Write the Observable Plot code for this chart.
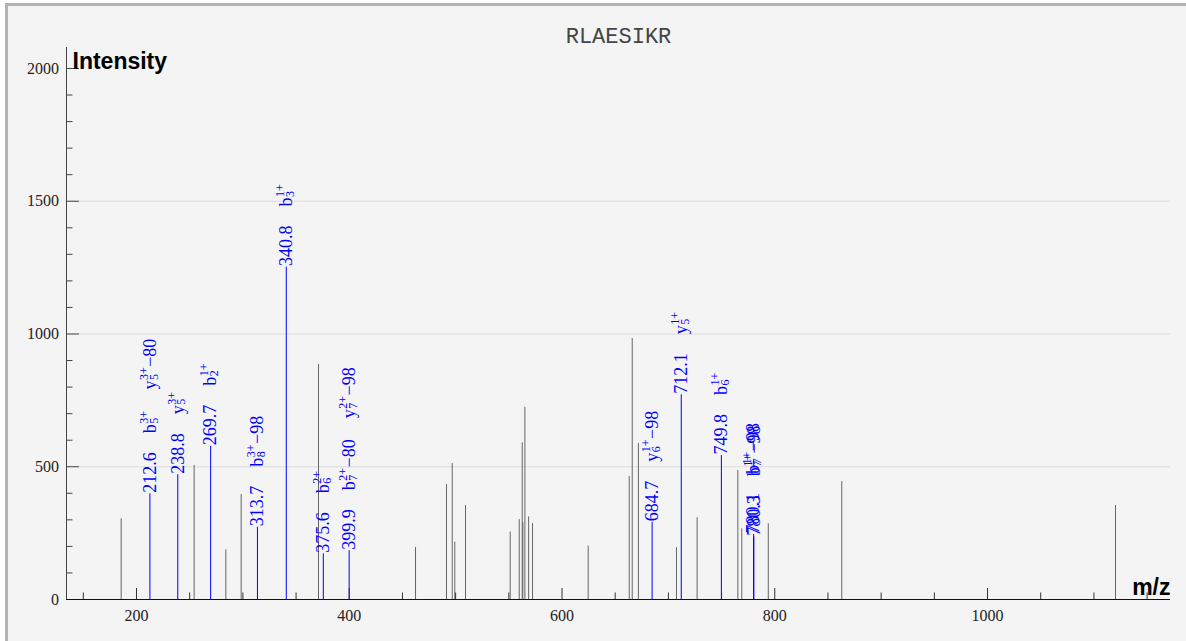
<!DOCTYPE html>
<html><head><meta charset="utf-8">
<script src="https://cdn.jsdelivr.net/npm/d3@7"></script>
<script src="https://cdn.jsdelivr.net/npm/@observablehq/plot@0.6"></script>
<style>
html,body{margin:0;padding:0;background:#fff;width:1186px;height:641px;overflow:hidden;}
#frame{position:absolute;left:5px;top:3px;width:1300px;height:800px;border-left:3px solid #b3b3b3;border-top:3px solid #b3b3b3;background:#f4f4f4;}
#chart{position:absolute;left:0;top:0;}
</style></head>
<body><div id="frame"></div><div id="chart"></div>
<script>
// ---- data ----
const title = "RLAESIKR";
const greyMz = [185.6, 254.2, 284.0, 298.4, 371.1, 462.3, 491.4, 496.8, 499.2, 509.3, 551.3, 559.8, 562.6, 563.2, 565.1, 568.6, 572.3, 624.6, 663.2, 666.0, 671.8, 707.6, 727.0, 765.3, 769.0, 793.9, 863.0, 1120.3];
const greyIntensity = [304, 505, 187, 395, 885, 196, 433, 512, 216, 354, 254, 301, 590, 289, 724, 311, 286, 201, 463, 983, 588, 195, 308, 486, 266, 285, 444, 354];
const annMz = [212.6, 238.8, 269.7, 313.7, 340.8, 375.6, 399.9, 684.7, 712.1, 749.8, 780.1, 780.3];
const annIntensity = [398, 470, 577, 272, 1252, 172, 184, 291, 771, 542, 245, 236];
const annText = ["212.6", "238.8", "269.7", "313.7", "340.8", "375.6", "399.9", "684.7", "712.1", "749.8", "780.1", "780.3"];
const annIons = [
  ["b_5^3+", "y_5^3+−80"],
  ["y_5^3+"],
  ["b_2^1+"],
  ["b_8^3+−98"],
  ["b_3^1+"],
  ["b_6^2+"],
  ["b_7^2+−80", "y_7^2+−98"],
  ["y_6^1+−98"],
  ["y_5^1+"],
  ["b_6^1+"],
  ["b_7^1+−98"],
  ["b_7^1+−98"]
];
const yTicks = [0, 500, 1000, 1500, 2000];
const xTicks = [200, 400, 600, 800, 1000];
const gridValues = [500, 1000, 1500];
const xLabel = "m/z";
const yLabel = "Intensity";

// ---- layout ----
const W = 1186, H = 641, mL = 66, mR = 16, mT = 47, mB = 42;
const xDom = [134.2, 1172], yDom = [0, 2079];
const kX = (W - mL - mR) / (xDom[1] - xDom[0]);
const kY = (H - mT - mB) / (yDom[1] - yDom[0]);
const xMinor = d3.range(150, 1151, 50).filter(v => v % 200 !== 0);
const yMinor = d3.range(100, 2000, 100).filter(v => v % 500 !== 0);

const greyData = greyMz.map((mz, i) => ({mz, intensity: greyIntensity[i]}));
const annData = annMz.map((mz, i) => ({mz, intensity: annIntensity[i]}));

// label layout along the rotated text (pixels upward from peak top)
const FS = 18, SFS = 12;
const cw = {".": 0.25, "+": 0.564, "−": 0.564, "b": 0.5, "y": 0.5};
const tw = (s, size) => [...s].reduce((a, c) => a + (cw[c] ?? 0.5), 0) * size;
const numRows = [], mainRows = [], supRows = [], subRows = [];
annData.forEach((d, i) => {
  let off = 1;
  const at = o => d.intensity + o / kY;
  numRows.push({x: d.mz, y: at(off), t: annText[i]});
  off += tw(annText[i], FS) + 19;
  annIons[i].forEach(lbl => {
    const m = lbl.match(/^([a-z])_(\d+)\^(\d\+)(.*)$/);
    mainRows.push({x: d.mz, y: at(off), t: m[1]});
    off += tw(m[1], FS) + 0.5;
    supRows.push({x: d.mz - 6 / kX, y: at(off), t: m[3]});
    subRows.push({x: d.mz + 3.8 / kX, y: at(off), t: m[2]});
    off += Math.max(tw(m[3], SFS), tw(m[2], SFS)) + 0.5;
    if (m[4]) { mainRows.push({x: d.mz, y: at(off), t: m[4]}); off += tw(m[4], FS); }
    off += 21;
  });
});

const serif = "Liberation Serif";
const sans = "Liberation Sans";
const lblOpts = {x: "x", y: "y", text: "t", rotate: -90, textAnchor: "start", lineAnchor: "middle", fill: "blue", fontFamily: serif};

const chart = Plot.plot({
  width: W, height: H,
  marginLeft: mL, marginRight: mR, marginTop: mT, marginBottom: mB,
  style: "background: transparent; overflow: visible; font-family: 'Liberation Serif', serif;",
  x: {domain: xDom},
  y: {domain: yDom},
  marks: [
    Plot.ruleY(gridValues, {stroke: "#dcdcdc", strokeWidth: 1}),
    Plot.ruleX(greyData, {x: "mz", y1: 0, y2: "intensity", stroke: "#666", strokeWidth: 1}),
    Plot.ruleX(annData, {x: "mz", y1: 0, y2: "intensity", stroke: "blue", strokeWidth: 1}),
    Plot.ruleX(xTicks, {x: d => d, y1: 0, y2: 11 / kY, stroke: "#333"}),
    Plot.ruleX(xMinor, {x: d => d, y1: 0, y2: 6.5 / kY, stroke: "#333"}),
    Plot.ruleY(yTicks, {y: d => d, x1: xDom[0], x2: xDom[0] + 13 / kX, stroke: "#444"}),
    Plot.ruleY(yMinor, {y: d => d, x1: xDom[0], x2: xDom[0] + 6.5 / kX, stroke: "#444"}),
    Plot.ruleX([xDom[0]], {stroke: "#444"}),
    Plot.ruleY([0], {stroke: "#111"}),
    Plot.axisX(xTicks, {tickSize: 0, tickPadding: 10, fontSize: 16, fontFamily: serif, color: "#222", label: null, tickFormat: d => String(d)}),
    Plot.axisY(yTicks, {tickSize: 0, tickPadding: 7.5, fontSize: 16, fontFamily: serif, color: "#222", label: null, tickFormat: d => String(d)}),
    Plot.text(numRows, {...lblOpts, fontSize: FS}),
    Plot.text(mainRows, {...lblOpts, fontSize: FS}),
    Plot.text(supRows, {...lblOpts, fontSize: SFS}),
    Plot.text(subRows, {...lblOpts, fontSize: SFS}),
    Plot.text([yLabel], {frameAnchor: "top-left", textAnchor: "start", lineAnchor: "middle", dx: 6, dy: 14.6, fontSize: 23, fontWeight: "bold", fontFamily: sans, fill: "#000"}),
    Plot.text([xLabel], {frameAnchor: "bottom-right", textAnchor: "end", lineAnchor: "middle", dy: -11.4, fontSize: 23, fontWeight: "bold", fontFamily: sans, fill: "#000"}),
    Plot.text([title], {frameAnchor: "top", lineAnchor: "middle", dy: -12, fontSize: 22, fontFamily: "Liberation Mono", fill: "#444"})
  ]
});
document.getElementById("chart").appendChild(chart);
</script>
</body></html>
